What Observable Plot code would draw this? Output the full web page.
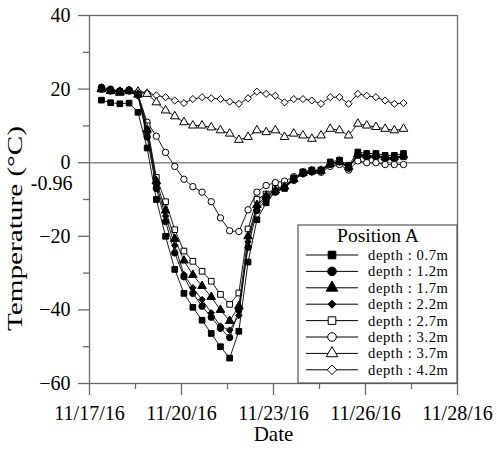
<!DOCTYPE html>
<html><head><meta charset="utf-8">
<script src="https://cdn.jsdelivr.net/npm/d3@7"></script>
<script src="https://cdn.jsdelivr.net/npm/@observablehq/plot@0.6"></script>
<style>
body{margin:0;background:#fff;}
#chart svg{display:block;}
</style></head><body><div id="chart"></div>
<script>
// measurement times, days since 11/17/16 00:00
const times = [0.39,0.69,0.99,1.29,1.58,1.88,2.18,2.48,2.78,3.08,3.37,3.67,3.97,4.27,4.57,4.87,5.17,5.46,5.76,6.06,6.36,6.66,6.96,7.25,7.55,7.85,8.15,8.45,8.75,9.04,9.34,9.64,9.94,10.24];
const xTickValues = [0,3,6,9,12];
const xTickLabels = ["11/17/16","11/20/16","11/23/16","11/26/16","11/28/16"];
const xMinorTicks = [1.5,4.5,7.5,10.5];
const yTickValues = [-60,-40,-20,0,20,40];
const yMinorTicks = [-50,-30,-10,10,30];
const seriesNames = ["depth : 0.7m","depth : 1.2m","depth : 1.7m","depth : 2.2m","depth : 2.7m","depth : 3.2m","depth : 3.7m","depth : 4.2m"];
const seriesSymbols = ["square","circle","triangle","diamond2","square","circle","triangle","diamond2"];
const seriesFilled = [true,true,true,true,false,false,false,false];
const legendTitle = "Position A";
const xTitle = "Date";
const yTitle = "Temperature (°C)";
const extraLabel = [{text:"-0.96", value:-5.6}];

const d07 = [17.0,16.3,16.0,16.2,13.7,4.0,-10.0,-20.0,-29.0,-35.5,-39.3,-42.8,-46.4,-50.0,-53.1,-45.8,-27.0,-15.5,-10.9,-7.9,-7.0,-4.3,-2.5,-2.0,-2.0,0.2,0.7,-0.7,2.9,2.5,2.5,2.0,2.0,2.5];
const d12 = [20.5,20.0,19.5,19.8,18.3,7.0,-7.0,-16.0,-24.5,-31.0,-35.5,-39.0,-42.0,-45.0,-47.5,-40.0,-23.0,-13.0,-10.0,-8.0,-6.8,-4.8,-3.0,-2.5,-2.3,-0.5,0.2,-1.5,2.2,1.8,1.8,1.3,1.3,1.8];
const d17 = [20.0,19.5,19.0,19.5,18.5,9.0,-5.0,-13.0,-20.7,-26.6,-30.5,-33.5,-36.5,-40.0,-43.0,-39.0,-20.0,-11.5,-9.0,-7.5,-6.5,-4.5,-2.8,-2.3,-2.2,-0.3,0.3,-1.2,2.3,2.0,2.0,1.5,1.5,2.0];
const d22 = [20.2,19.8,19.3,19.7,18.2,8.0,-6.0,-14.5,-22.5,-30.4,-34.0,-37.2,-40.8,-44.4,-45.5,-41.5,-21.5,-12.0,-9.5,-7.7,-6.6,-4.6,-2.9,-2.4,-2.2,-0.4,0.3,-1.3,2.3,1.9,1.9,1.4,1.4,1.9];
const d27 = [20.0,19.5,19.3,19.5,18.5,10.0,-4.0,-10.6,-18.2,-24.0,-26.8,-29.5,-32.2,-35.8,-38.5,-35.4,-18.0,-10.0,-8.5,-7.0,-6.3,-4.2,-2.6,-2.2,-2.0,-0.3,0.3,-1.2,2.0,1.7,1.7,1.2,1.2,1.6];
const d32 = [20.0,19.5,19.3,19.5,18.5,11.0,7.2,2.8,-1.0,-4.5,-6.5,-8.0,-10.6,-15.0,-18.5,-18.7,-12.8,-8.0,-6.2,-5.4,-5.0,-3.8,-3.0,-2.5,-2.6,-1.0,-0.5,-2.0,0.5,0.0,0.0,-0.5,-0.5,-0.5];
const d37 = [20.0,19.5,19.3,19.5,19.3,18.7,16.4,14.2,12.6,11.0,10.1,10.1,9.6,8.8,7.9,6.2,7.0,8.8,8.3,8.8,7.0,7.9,7.4,6.5,7.4,9.2,8.8,7.4,10.6,10.1,9.7,9.2,8.8,9.2];
const d42 = [20.0,19.6,19.4,19.6,19.4,19.0,18.3,17.8,16.9,16.2,17.3,17.8,17.5,17.3,16.6,16.0,17.5,19.3,18.7,18.2,16.4,17.3,17.3,16.9,16.0,17.8,17.8,16.0,18.7,18.2,17.8,16.9,16.0,16.2];
const seriesValues = [d07,d12,d17,d22,d27,d32,d37,d42];

const rows = [];
seriesValues.forEach((vals, s) => vals.forEach((v, i) => rows.push({s, series: seriesNames[s], t: times[i], v})));

const W = 497, H = 451;
const M = {left: 89, right: 40, top: 15, bottom: 68};
const font = "'Liberation Serif','Times New Roman',Times,serif";
const axisColor = "#6a6a6a";
const R = 3.2;

const seriesMarks = [];
for (let s = seriesValues.length - 1; s >= 0; s--) {
  const data = rows.filter(r => r.s === s);
  seriesMarks.push(Plot.line(data, {x: "t", y: "v", stroke: "black", strokeWidth: 0.9}));
  seriesMarks.push(Plot.dot(data, {x: "t", y: "v", symbol: seriesSymbols[s], r: s === 3 ? 2.9 : R,
    fill: seriesFilled[s] ? "black" : "white", stroke: "black", strokeWidth: 1}));
}

const chart = Plot.plot({
  width: W, height: H,
  marginLeft: M.left, marginRight: M.right, marginTop: M.top, marginBottom: M.bottom,
  style: {fontFamily: font, fontSize: "20px", background: "white", overflow: "visible"},
  x: {domain: [0, 12]},
  y: {domain: [-60, 40]},
  marks: [
    Plot.ruleY([0], {stroke: "#8a8a8a", strokeWidth: 1.5}),
    Plot.frame({stroke: axisColor, strokeWidth: 1.3}),
    Plot.axisY(yTickValues, {tickSize: 11, tickPadding: 8, stroke: axisColor, fill: "black", fontSize: 20, label: null, strokeWidth: 1.3}),
    Plot.axisY(yMinorTicks, {tickSize: 6, text: null, stroke: axisColor, label: null, strokeWidth: 1.3}),
    Plot.axisX(xTickValues, {tickSize: 12, tickPadding: 10, stroke: axisColor, fill: "black", fontSize: 20, label: null, strokeWidth: 1.3,
      tickFormat: d => xTickLabels[xTickValues.indexOf(d)]}),
    Plot.axisX(xMinorTicks, {tickSize: 6, text: null, stroke: axisColor, label: null, strokeWidth: 1.3}),
    Plot.text(extraLabel, {y: "value", text: "text", frameAnchor: "left", dx: -17, textAnchor: "end", fontSize: 20}),
    Plot.text([xTitle], {text: d => d, frameAnchor: "bottom", dy: 57, fontSize: 21}),
    ...seriesMarks
  ]
});
document.getElementById("chart").appendChild(chart);

const svg = d3.select(chart);
const right = W - M.right, bottom = H - M.bottom;

// y title (stretched like the original)
svg.append("text").attr("font-family", font).attr("font-size", 21)
  .attr("text-anchor", "start")
  .attr("transform", "translate(22,331) rotate(-90)")
  .attr("textLength", 205).attr("lengthAdjust", "spacingAndGlyphs")
  .text(yTitle);

// legend
const lg = svg.append("g").attr("font-family", font).attr("text-anchor", "start");
const bx = right - 159, by = bottom - 158;
lg.append("rect").attr("x", bx).attr("y", by).attr("width", 159).attr("height", 158)
  .attr("fill", "white").attr("stroke", "#555").attr("stroke-width", 1.2);
lg.append("text").attr("x", bx + 80).attr("y", by + 17).attr("text-anchor", "middle")
  .attr("font-size", 19.5).text(legendTitle);
const symMap = {square: d3.symbolSquare, circle: d3.symbolCircle, triangle: d3.symbolTriangle, diamond2: d3.symbolDiamond2};
seriesNames.forEach((name, i) => {
  const yb = by + 35 + 16.4 * i;
  const yc = yb - 5;
  lg.append("line").attr("x1", bx + 8).attr("x2", bx + 60).attr("y1", yc).attr("y2", yc)
    .attr("stroke", "black").attr("stroke-width", 1);
  const rr = i === 3 ? 3.6 : 4.3;
  lg.append("path").attr("transform", `translate(${bx + 34},${yc})`)
    .attr("d", d3.symbol(symMap[seriesSymbols[i]], Math.PI * rr * rr)())
    .attr("fill", seriesFilled[i] ? "black" : "white").attr("stroke", "black").attr("stroke-width", 1);
  lg.append("text").attr("x", bx + 70).attr("y", yb).attr("font-size", 14.6)
    .attr("letter-spacing", 0.6).text(name);
});
</script></body></html>
